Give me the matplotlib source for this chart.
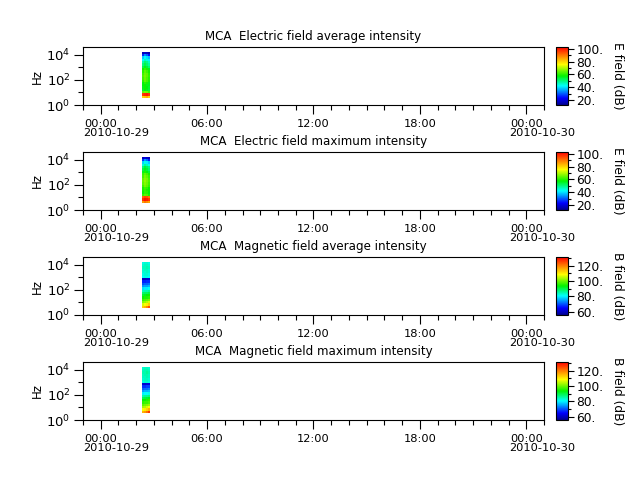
import matplotlib
matplotlib.use("Agg")
import matplotlib.pyplot as plt
import matplotlib.dates as mdates
import matplotlib.ticker as mticker
from matplotlib.colors import LinearSegmentedColormap
import numpy as np
import datetime as dt

plt.rcParams['font.family'] = ['DejaVu Sans']
plt.rcParams['font.size'] = 8

# ---------------- data ----------------
titles = ["MCA  Electric field average intensity",
          "MCA  Electric field maximum intensity",
          "MCA  Magnetic field average intensity",
          "MCA  Magnetic field maximum intensity"]
cbar_labels = ["E field (dB)", "E field (dB)", "B field (dB)", "B field (dB)"]
e_range = [12, 103]
b_range = [56, 131]
e_ticks = [20, 40, 60, 80, 100]
b_ticks = [60, 80, 100, 120]

# time bin edges of the spectrogram (2010-10-29)
time_edges = ["2010-10-29 02:20", "2010-10-29 02:27", "2010-10-29 02:34",
              "2010-10-29 02:41", "2010-10-29 02:48"]
# frequency bin edges, log10(Hz)
log_freq_edges = [0.55, 0.735, 0.92, 1.105, 1.29, 1.475, 1.66, 1.845, 2.03, 2.215,
                  2.40, 2.585, 2.77, 2.955, 3.14, 3.325, 3.51, 3.695, 3.88, 4.065, 4.25]

# intensities (dB): rows = frequency bins (low -> high), cols = time bins
e_avg = [[80, 82, 84, 80],
         [97, 99, 100, 97],
         [64, 66, 65, 62],
         [55, 57, 56, 54],
         [56, 58, 57, 55],
         [57, 58, 56, 56],
         [57, 60, 59, 56],
         [60, 64, 62, 59],
         [62, 65, 63, 60],
         [63, 66, 64, 61],
         [62, 65, 64, 60],
         [60, 64, 62, 59],
         [58, 61, 59, 56],
         [53, 56, 54, 51],
         [50, 53, 51, 48],
         [47, 51, 49, 46],
         [42, 46, 44, 41],
         [38, 42, 40, 37],
         [26, 34, 30, 24],
         [16, 18, 17, 15]]
e_max = [[86, 90, 88, 85],
         [98, 101, 100, 97],
         [92, 95, 94, 90],
         [61, 64, 63, 59],
         [58, 61, 60, 57],
         [59, 61, 59, 58],
         [59, 62, 61, 58],
         [62, 66, 64, 61],
         [64, 67, 65, 62],
         [65, 68, 66, 63],
         [64, 67, 66, 62],
         [62, 66, 64, 61],
         [61, 64, 62, 59],
         [56, 59, 57, 54],
         [53, 56, 54, 51],
         [50, 54, 52, 49],
         [44, 48, 46, 43],
         [39, 43, 41, 38],
         [27, 35, 31, 25],
         [17, 20, 18, 16]]
b_avg = [[113, 115, 119, 124],
         [106, 108, 110, 113],
         [101, 102, 104, 106],
         [97, 98, 99, 100],
         [94, 95, 95, 96],
         [91, 92, 93, 94],
         [88, 89, 89, 90],
         [84, 85, 85, 86],
         [79, 80, 80, 81],
         [74, 75, 75, 76],
         [70, 71, 71, 72],
         [67, 67, 68, 68],
         [60, 60, 61, 61],
         [81, 82, 82, 81],
         [82, 83, 83, 82],
         [83, 83, 84, 83],
         [83, 84, 84, 83],
         [84, 84, 85, 84],
         [83, 84, 84, 83],
         [82, 83, 83, 82]]
b_max = [[115, 117, 121, 126],
         [108, 110, 112, 115],
         [103, 104, 106, 108],
         [99, 100, 101, 102],
         [96, 97, 97, 98],
         [93, 94, 95, 96],
         [89, 90, 91, 92],
         [85, 86, 86, 87],
         [80, 81, 81, 82],
         [75, 76, 76, 77],
         [71, 72, 72, 73],
         [68, 68, 69, 69],
         [61, 61, 62, 62],
         [82, 83, 83, 82],
         [83, 84, 84, 83],
         [84, 84, 85, 84],
         [84, 85, 85, 84],
         [85, 85, 86, 85],
         [84, 85, 85, 84],
         [83, 84, 84, 83]]

xlim = ["2010-10-28 23:00", "2010-10-30 01:00"]
day_labels = ["2010-10-29", "2010-10-30"]

# ---------------- plot ----------------
cmap = LinearSegmentedColormap.from_list(
    "rainbow_idl",
    [(0.00, (0.0, 0.0, 0.55)), (0.12, (0.0, 0.0, 1.0)), (0.33, (0.0, 1.0, 1.0)),
     (0.50, (0.0, 0.95, 0.0)), (0.70, (1.0, 1.0, 0.0)), (0.85, (1.0, 0.5, 0.0)),
     (1.00, (1.0, 0.0, 0.0))])

datasets = [e_avg, e_max, b_avg, b_max]
ranges = [e_range, e_range, b_range, b_range]
ticksets = [e_ticks, e_ticks, b_ticks, b_ticks]

fmt = "%Y-%m-%d %H:%M"
t_edges = mdates.date2num([dt.datetime.strptime(s, fmt) for s in time_edges])
f_edges = 10.0 ** np.array(log_freq_edges)
x0, x1 = [dt.datetime.strptime(s, fmt) for s in xlim]

fig = plt.figure(figsize=(6.4, 4.8), dpi=100)
W, H = 640.0, 480.0

for i in range(4):
    top_px = 47 + 105 * i
    bot_px = top_px + 58
    ax = fig.add_axes([83 / W, 1 - bot_px / H, 461 / W, 58 / H])
    vmin, vmax = ranges[i]
    mesh = ax.pcolormesh(t_edges, f_edges, np.array(datasets[i]), cmap=cmap,
                         vmin=vmin, vmax=vmax, shading='flat')
    ax.set_yscale('log')
    ax.set_ylim(1, 4.2e4)
    ax.set_xlim(x0, x1)
    ax.yaxis.set_major_locator(mticker.FixedLocator([1, 1e2, 1e4]))
    ax.yaxis.set_minor_locator(mticker.FixedLocator([10, 1e3]))
    ax.yaxis.set_minor_formatter(mticker.NullFormatter())
    ax.xaxis.set_major_locator(mdates.HourLocator(byhour=[0, 6, 12, 18]))
    ax.xaxis.set_minor_locator(mdates.HourLocator())
    ax.xaxis.set_major_formatter(mdates.DateFormatter('%H:%M'))
    ax.tick_params(which='major', length=6.5, width=0.8, labelsize=8.2, pad=3.5)
    ax.tick_params(axis='y', which='major', labelsize=9.5, pad=2.5)
    ax.tick_params(which='minor', length=3.5, width=0.8)
    ax.set_ylabel('Hz', fontsize=8.5, labelpad=2)
    ax.set_title(titles[i], fontsize=8.6, pad=5)
    for d in day_labels:
        dd = mdates.date2num(dt.datetime.strptime(d, "%Y-%m-%d"))
        ax.annotate(d, xy=(dd, 0), xycoords=ax.get_xaxis_transform(),
                    xytext=(-12.5, -16.5), textcoords='offset points',
                    ha='left', va='top', fontsize=8.2)

    cax = fig.add_axes([556 / W, 1 - bot_px / H, 12 / W, 58 / H])
    cb = fig.colorbar(mesh, cax=cax)
    cb.set_ticks(ticksets[i])
    cb.set_ticklabels([f"{t}." for t in ticksets[i]])
    cb.ax.yaxis.set_minor_locator(mticker.MultipleLocator(10))
    cb.ax.tick_params(which='major', length=4, width=0.8, labelsize=8.8, pad=2)
    cb.ax.tick_params(which='minor', length=2.5, width=0.8)
    cb.outline.set_linewidth(0.8)
    cb.set_label(cbar_labels[i], rotation=270, fontsize=8.8, labelpad=15)

fig.savefig("out.png", dpi=100)
